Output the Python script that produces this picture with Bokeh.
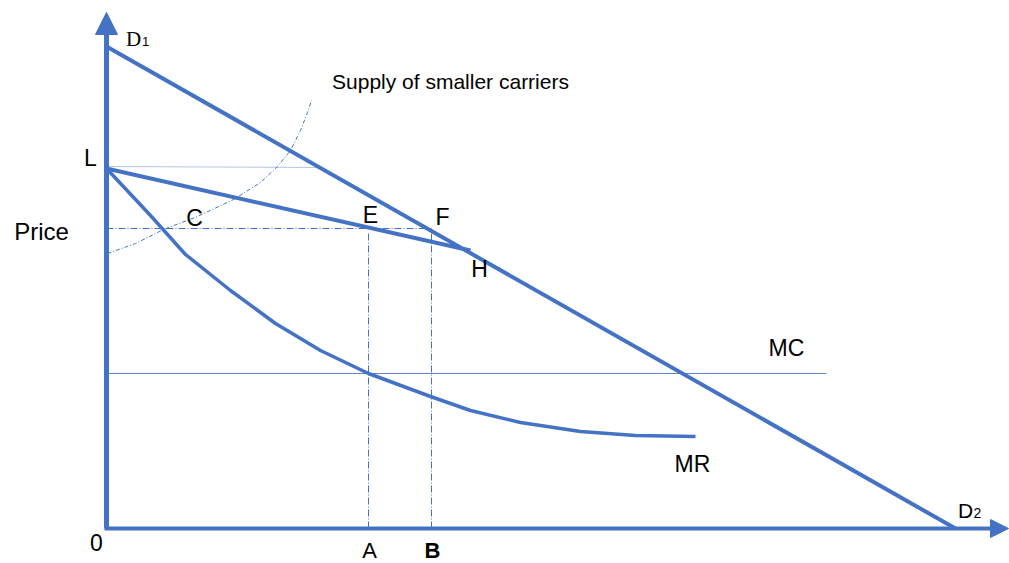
from bokeh.plotting import figure
from bokeh.models import Range1d, Arrow, NormalHead
from bokeh.core.properties import value
from bokeh.embed import file_html
from bokeh.resources import INLINE

BLUE = "#4472C4"
FONT = "Liberation Sans"

# ---- data (quantity, price in schematic units; origin at the axes' corner) ----
demand_q = [0, 849]
demand_p = [482, 0]

kinked_q = [0, 364]          # L -> H
kinked_p = [360, 278]

mr_q = [0, 44, 79, 124, 169, 214, 262, 324, 364, 414, 474, 529, 589]
mr_p = [360, 313, 274, 238, 205, 178, 155, 132, 118, 106, 97, 93, 92]

supply_q = [1, 29, 57, 91, 127, 154, 171, 184, 194, 201, 205]
supply_p = [275, 285, 299, 312, 329, 346, 362, 378, 398, 416, 428]

mc_price = 155
mc_q_end = 720

price_level = 300
q_A = 262
q_B = 325

L_price = 362
L_line_end = 213

x_axis_end = 902
y_axis_end = 516

p = figure(width=1009, height=563, output_backend="svg", toolbar_location=None,
           x_range=Range1d(-106, 903), y_range=Range1d(-35, 528),
           min_border=0, outline_line_color=None)
p.axis.visible = False
p.grid.visible = False
p.background_fill_color = "white"

# horizontal dotted line from L to demand curve
p.line([0, L_line_end], [L_price, L_price - 1], line_color=BLUE, line_width=1,
       line_dash="1 1", line_alpha=0.8)

# price level dash-dot line
p.line([0, q_B], [price_level, price_level], line_color=BLUE, line_width=1,
       line_dash="7 2 1 2")
# verticals at A and B
p.line([q_A, q_A], [0, price_level - 3], line_color=BLUE, line_width=1,
       line_dash="7 2 1 2")
p.line([q_B, q_B], [0, price_level], line_color=BLUE, line_width=1,
       line_dash="7 2 1 2")

# supply of smaller carriers
p.line(supply_q, supply_p, line_color=BLUE, line_width=1, line_dash="4 2 1 2")

# MC
p.line([0, mc_q_end], [mc_price, mc_price], line_color=BLUE, line_width=1,
       line_alpha=0.85)

# demand D1-D2
p.line(demand_q, demand_p, line_color=BLUE, line_width=4)
# kinked segment
p.line(kinked_q, kinked_p, line_color=BLUE, line_width=4)
# MR
p.line(mr_q, mr_p, line_color=BLUE, line_width=3.5, line_join="round")

# axes with arrows
p.add_layout(Arrow(end=NormalHead(size=22, fill_color=BLUE, line_color=BLUE, line_width=1),
                   x_start=0, y_start=0, x_end=0, y_end=y_axis_end,
                   line_color=BLUE, line_width=5))
p.add_layout(Arrow(end=NormalHead(size=18, fill_color=BLUE, line_color=BLUE, line_width=1),
                   x_start=-2, y_start=0, x_end=x_axis_end, y_end=0,
                   line_color=BLUE, line_width=4))

# labels
p.text(x=[-16, 88, 264, 336, 373, 680, 586, -10],
       y=[371, 311, 314, 312, 260, 181, 65, -14],
       text=["L", "C", "E", "F", "H", "MC", "MR", "0"],
       text_font=value(FONT), text_font_size="23px", text_align="center",
       text_baseline="middle", text_color="black")
p.text(x=[263], y=[-22], text=["A"], text_font=value(FONT), text_font_size="22px",
       text_align="center", text_baseline="middle", text_color="black")
p.text(x=[326], y=[-22], text=["B"], text_font=value(FONT), text_font_size="22px",
       text_font_style="bold", text_align="center", text_baseline="middle",
       text_color="black")
p.text(x=[-65], y=[297], text=["Price"], text_font=value(FONT), text_font_size="24px",
       text_align="center", text_baseline="middle", text_color="black")
p.text(x=[344], y=[447], text=["Supply of smaller carriers"], text_font=value(FONT),
       text_font_size="21px", text_align="center", text_baseline="middle",
       text_color="black")
# D1 / D2
p.text(x=[27], y=[490], text=["D"], text_font=value("Liberation Serif"),
       text_font_size="21px", text_align="center", text_baseline="middle", text_color="black")
p.text(x=[39], y=[487], text=["1"], text_font=value(FONT),
       text_font_size="13px", text_align="center", text_baseline="middle", text_color="black")
p.text(x=[859], y=[18], text=["D"], text_font=value(FONT),
       text_font_size="21px", text_align="center", text_baseline="middle", text_color="black")
p.text(x=[871], y=[16], text=["2"], text_font=value(FONT),
       text_font_size="14px", text_align="center", text_baseline="middle", text_color="black")

open("out.html", "w").write(file_html(p, INLINE))
